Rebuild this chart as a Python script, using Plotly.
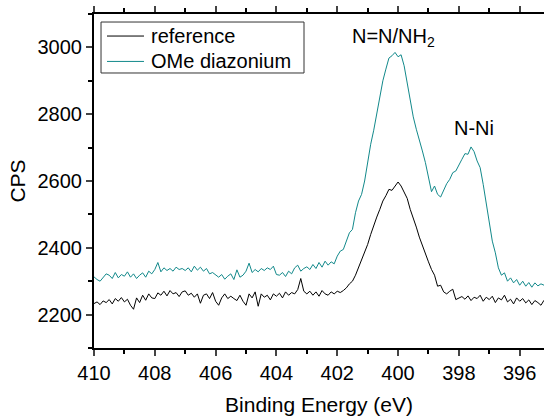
import numpy as np
import plotly.graph_objects as go

# Binding energy grid (eV), 410.0 down to 395.2 in 0.1 eV steps
energy = [round(410.0 - 0.1 * i, 1) for i in range(149)]

reference = [
    2233, 2238, 2230, 2241, 2236, 2245, 2232, 2248, 2240, 2251,
    2238, 2246, 2228, 2216, 2250, 2236, 2258, 2243, 2262, 2250,
    2248, 2265, 2258, 2270, 2256, 2272, 2262, 2266, 2254, 2268,
    2271, 2258, 2264, 2252, 2262, 2234, 2258, 2262, 2248, 2266,
    2240, 2228, 2250, 2262, 2248, 2255, 2248, 2242, 2258, 2240,
    2228, 2262, 2250, 2268, 2225, 2262, 2252, 2258, 2244, 2262,
    2255, 2264, 2250, 2268, 2258, 2266, 2262, 2275, 2308, 2270,
    2262, 2270, 2258, 2268, 2255, 2272, 2262, 2258, 2268, 2262,
    2270, 2266, 2272, 2280, 2292, 2300, 2318, 2340, 2365, 2385,
    2410, 2440, 2468, 2492, 2515, 2540, 2556, 2575, 2572, 2584,
    2597, 2585, 2568, 2548, 2515, 2490, 2462, 2432, 2405, 2380,
    2358, 2335, 2318, 2285, 2288, 2268, 2262, 2270, 2276, 2245,
    2250, 2254, 2246, 2256, 2242, 2252, 2248, 2258, 2240, 2252,
    2245, 2255, 2236, 2250, 2244, 2258, 2238, 2246, 2232, 2250,
    2240, 2248, 2235, 2244, 2230, 2242, 2236, 2228, 2243,
]

ome_diazonium = [
    2313, 2305, 2300, 2312, 2322, 2318, 2308, 2326, 2310, 2320,
    2315, 2328, 2312, 2322, 2308, 2318, 2325, 2312, 2330, 2322,
    2335, 2356, 2328, 2340, 2332, 2338, 2330, 2342, 2335, 2338,
    2332, 2340, 2328, 2345, 2333, 2342, 2330, 2338, 2322, 2326,
    2318, 2312, 2320, 2306, 2315, 2322, 2305, 2334, 2312, 2318,
    2330, 2354, 2326, 2335, 2328, 2338, 2332, 2340, 2335, 2345,
    2320, 2318, 2326, 2314, 2330, 2322, 2340, 2348, 2330, 2338,
    2343, 2335, 2350, 2338, 2356, 2342, 2360, 2348, 2358, 2352,
    2375, 2390, 2395, 2420, 2445, 2455, 2505, 2540, 2560, 2600,
    2660, 2710, 2752, 2800, 2852, 2900, 2935, 2968, 2975, 2985,
    2972, 2978, 2945, 2895, 2840, 2792, 2755, 2718, 2690, 2655,
    2615, 2568, 2585, 2560, 2552, 2575, 2592, 2605, 2625, 2630,
    2650, 2665, 2682, 2680, 2702, 2688, 2660, 2640, 2590, 2530,
    2470, 2420, 2385, 2340, 2318, 2325, 2300, 2310, 2295, 2305,
    2288, 2300, 2285, 2296, 2282, 2295, 2286, 2292, 2288,
]

series_names = ["reference", "OMe diazonium"]
series_colors = ["black", "#12898b"]

x_ticks = [410, 408, 406, 404, 402, 400, 398, 396]
y_ticks = [2200, 2400, 2600, 2800, 3000]

FONT = "Arial, Liberation Sans, sans-serif"

fig = go.Figure()
for name, vals, col in zip(series_names, [reference, ome_diazonium], series_colors):
    fig.add_trace(go.Scatter(x=energy, y=vals, mode="lines", name=name,
                             line=dict(color=col, width=1), showlegend=False))

fig.add_annotation(x=400.15, y=3030, text="N=N/NH<sub>2</sub>", showarrow=False,
                   font=dict(size=20, color="black", family=FONT), yanchor="middle")
fig.add_annotation(x=397.5, y=2759, text="N-Ni", showarrow=False,
                   font=dict(size=20, color="black", family=FONT), yanchor="middle")

# Legend (boxed, top-left), in paper coordinates
fig.add_shape(type="rect", xref="paper", yref="paper", x0=0.0156, x1=0.4667,
              y0=0.8234, y1=0.976, line=dict(color="#333333", width=1),
              fillcolor="white", layer="above")
for row_y, name, col in zip([0.934, 0.858], series_names, series_colors):
    fig.add_shape(type="line", xref="paper", yref="paper", x0=0.0289, x1=0.1111,
                  y0=row_y, y1=row_y, line=dict(color=col, width=1), layer="above")
    fig.add_annotation(xref="paper", yref="paper", x=0.1222, y=row_y, text=name,
                       showarrow=False, xanchor="left", yanchor="middle",
                       font=dict(size=20, color="black", family=FONT))

fig.update_layout(
    width=544, height=417,
    margin=dict(l=94, r=0, t=14, b=69, autoexpand=False),
    paper_bgcolor="white", plot_bgcolor="white",
    font=dict(family=FONT, color="black", size=20),
    showlegend=False,
    xaxis=dict(range=[410, 395.2], tickvals=x_ticks, ticks="outside", ticklen=6,
               tickwidth=1.5, showline=True, linecolor="black", linewidth=2,
               mirror="ticks", showgrid=False, zeroline=False, automargin=False,
               tickfont=dict(size=20, family=FONT),
               minor=dict(dtick=1, ticks="outside", ticklen=4, tickwidth=1.5,
                          tickcolor="black", showgrid=False),
               title=dict(text="Binding Energy (eV)", font=dict(size=21, family=FONT),
                          standoff=14)),
    yaxis=dict(range=[2100, 3100], tickvals=y_ticks, ticks="outside", ticklen=6,
               tickwidth=1.5, showline=True, linecolor="black", linewidth=2,
               mirror=False, showgrid=False, zeroline=False, automargin=False,
               tickfont=dict(size=20, family=FONT),
               minor=dict(dtick=100, tick0=2100, ticks="outside", ticklen=4,
                          tickwidth=1.5, tickcolor="black", showgrid=False),
               title=dict(text="CPS", font=dict(size=21, family=FONT), standoff=6)),
)

fig.write_html("out.html", config={"displayModeBar": False},
               post_script="document.body.style.margin='0px';")
